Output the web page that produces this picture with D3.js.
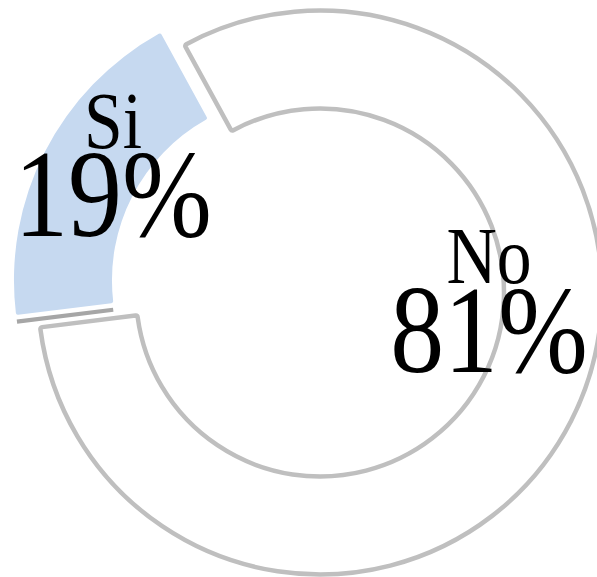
<!DOCTYPE html>
<html>
    <head>
        <meta charset="utf-8" />
        <script src="https://d3js.org/d3.v7.min.js"></script>
        <style type="text/css">
            body {
                margin: 0;
                background: #ffffff;
            }
            svg#mainSvg {
                display: block;
            }
            text {
                font-family: "Liberation Serif", "Times New Roman", serif;
                fill: #000000;
                text-anchor: middle;
            }
        </style>
    </head>

    <body>
        <svg id="mainSvg" width="597" height="577"></svg>

        <script type="text/javascript">
            // Data
            const categories = ["Si", "No"];
            const values = [19, 81];
            const percentLabels = ["19%", "81%"];
            const fills = ["#c6d9f0", "#ffffff"];
            const strokes = ["none", "#bfbfbf"];
            const exploded = [true, false];

            // Layout
            const cx = 320,
                cy = 292.5,
                outerR = 282,
                innerR = 184,
                explodeBy = 27;
            const startDeg = -97.1;
            // Label anchors (baseline of the category name), relative to the centre
            const labelAnchors = [
                [-207, -145],
                [169, -9.5],
            ];
            const valueGap = 88.5;
            const squeeze = 0.87;

            const rad = (d) => (d * Math.PI) / 180;

            const pie = d3
                .pie()
                .sort(null)
                .value((d) => d.value)
                .startAngle(rad(startDeg))
                .endAngle(rad(startDeg + 360));

            const arcs = pie(
                categories.map((c, i) => ({
                    name: c,
                    value: values[i],
                    pct: percentLabels[i],
                    fill: fills[i],
                    stroke: strokes[i],
                    exploded: exploded[i],
                }))
            );

            const arc = d3
                .arc()
                .innerRadius(innerR)
                .outerRadius(outerR)
                .cornerRadius(2);

            const svg = d3.select("#mainSvg");
            const grp = svg
                .append("g")
                .attr("transform", "translate(" + cx + "," + cy + ")");

            // Offset of an exploded slice, along its middle angle
            function offset(d) {
                if (!d.data.exploded) return [0, 0];
                const m = (d.startAngle + d.endAngle) / 2;
                return [explodeBy * Math.sin(m), -explodeBy * Math.cos(m)];
            }

            // Unexploded slices first, so the pulled-out one sits on top
            const order = arcs
                .slice()
                .sort((a, b) => a.data.exploded - b.data.exploded);

            // Dark edge line beside the pulled-out slice
            arcs.filter((d) => d.data.exploded).forEach((d) => {
                const o = offset(d);
                const a = d.startAngle;
                const nx = Math.sin(a - Math.PI / 2) * 6.7,
                    ny = -Math.cos(a - Math.PI / 2) * 6.7;
                const pts = [innerR + 1, outerR].map((r) => [
                    o[0] + nx + r * Math.sin(a),
                    o[1] + ny - r * Math.cos(a),
                ]);
                grp.append("path")
                    .attr("d", d3.line()(pts))
                    .style("stroke", "#a6a6a6")
                    .style("stroke-width", 4.2)
                    .style("fill", "none");
            });

            grp.append("g")
                .selectAll("path")
                .data(order)
                .enter()
                .append("path")
                .attr("d", arc)
                .attr("transform", (d) => "translate(" + offset(d) + ")")
                .style("fill", (d) => d.data.fill)
                .style("stroke", (d) => d.data.stroke)
                .style("stroke-width", 4.5)
                .style("stroke-linejoin", "miter");

            // Labels
            const lab = grp
                .append("g")
                .selectAll("g")
                .data(arcs)
                .enter()
                .append("g")
                .attr("transform", (d, i) => "translate(" + labelAnchors[i] + ")");

            lab.append("text")
                .attr("transform", "scale(" + squeeze + ",1)")
                .style("font-size", "80px")
                .text((d) => d.data.name);

            lab.append("text")
                .attr("transform", "translate(0," + valueGap + ") scale(" + squeeze + ",1)")
                .style("font-size", "124px")
                .text((d) => d.data.pct);
        </script>
    </body>
</html>
